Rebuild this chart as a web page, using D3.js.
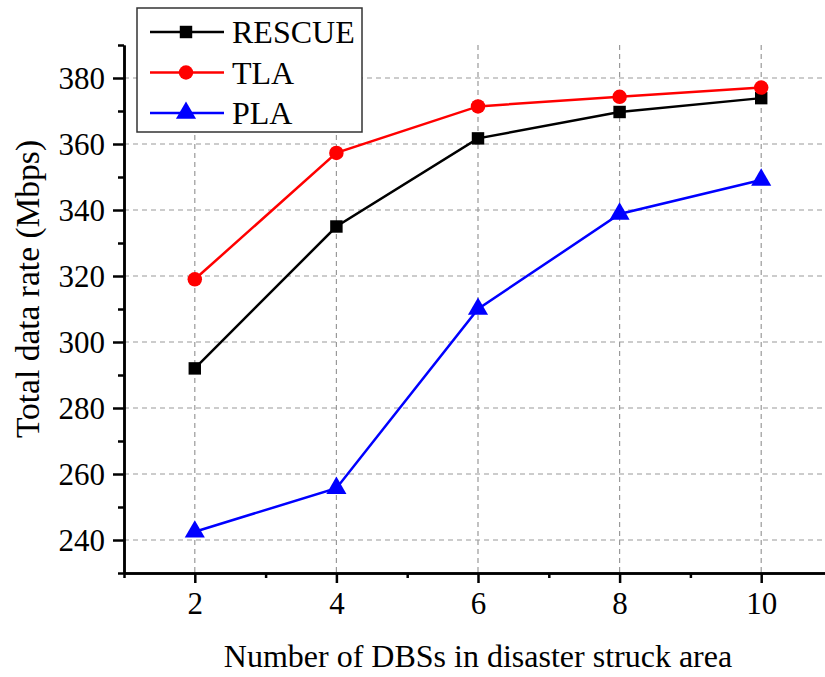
<!DOCTYPE html>
<html><head><meta charset="utf-8">
<script src="https://cdn.jsdelivr.net/npm/d3@7"></script>
<style>body{margin:0;background:#fff}svg{display:block}svg text{font-family:"Liberation Serif","Times New Roman",serif !important}</style>
</head><body>
<svg id="c" width="825" height="677"></svg>
<script>
const xValues = [2, 4, 6, 8, 10];
const rescue = [292, 335, 361.7, 369.7, 373.9];
const tla = [319, 357.3, 371.4, 374.3, 377.1];
const pla = [242.5, 255.7, 310, 338.8, 349.1];
const xTicks = [2, 4, 6, 8, 10];
const yTicks = [240, 260, 280, 300, 320, 340, 360, 380];
const seriesNames = ["RESCUE", "TLA", "PLA"];

const FONT = '"Liberation Serif", "Times New Roman", serif';
const svg = d3.select("#c");
const L = 124, R = 832, T = 45, B = 573;
const x = d3.scaleLinear().domain([1, 11]).range([L, R]);
const y = d3.scaleLinear().domain([230, 390]).range([B, T]);

// grid
const g = svg.append("g");
g.selectAll(".gy").data(yTicks).join("line")
  .attr("x1", L).attr("x2", R).attr("y1", d => y(d)).attr("y2", d => y(d))
  .attr("stroke", "#999").attr("stroke-width", 1.2).attr("stroke-dasharray", "5,4");
g.selectAll(".gx").data(xTicks).join("line")
  .attr("y1", T).attr("y2", B).attr("x1", d => x(d)).attr("x2", d => x(d))
  .attr("stroke", "#999").attr("stroke-width", 1.2).attr("stroke-dasharray", "5,4");

// axes
const xAxis = d3.axisBottom(x).tickValues(xTicks).tickSize(10).tickSizeOuter(0).tickFormat(d3.format("d"));
const xMinor = d3.axisBottom(x).tickValues([1, 3, 5, 7, 9]).tickSize(5).tickSizeOuter(0).tickFormat("");
const yAxis = d3.axisLeft(y).tickValues(yTicks).tickSize(11).tickSizeOuter(0);
const yMinor = d3.axisLeft(y).tickValues(d3.range(230, 391, 10).filter(v => v % 20 !== 0)).tickSize(6).tickSizeOuter(0).tickFormat("");

function style(sel) {
  sel.attr("font-family", FONT);
  sel.select(".domain").attr("stroke", "#000").attr("stroke-width", 2.5);
  sel.selectAll(".tick line").attr("stroke", "#000").attr("stroke-width", 2.5);
  sel.selectAll(".tick text").attr("fill", "#000").attr("font-family", FONT).attr("font-size", 31).style("font-size", "31px");
}
svg.append("g").attr("transform", `translate(0,${B})`).call(xMinor).call(style);
svg.append("g").attr("transform", `translate(0,${B})`).call(xAxis).call(style)
  .selectAll(".tick text").attr("y", 41).attr("dy", null);
svg.append("g").attr("transform", `translate(${L},0)`).call(yMinor).call(style);
svg.append("g").attr("transform", `translate(${L},0)`).call(yAxis).call(style)
  .selectAll(".tick text").attr("x", -19).attr("dy", "0.35em");

// axis titles
svg.append("text").attr("x", 478).attr("y", 667).attr("text-anchor", "middle")
  .attr("font-family", FONT).style("font-size", "32px").text("Number of DBSs in disaster struck area");
svg.append("text").attr("transform", "translate(39,289) rotate(-90)").attr("text-anchor", "middle")
  .attr("font-family", FONT).style("font-size", "33.5px").text("Total data rate (Mbps)");

const series = [
  {name: seriesNames[0], vals: rescue, color: "#000", shape: d3.symbolSquare, size: 155},
  {name: seriesNames[1], vals: tla, color: "#f00", shape: d3.symbolCircle, size: 165},
  {name: seriesNames[2], vals: pla, color: "#00f", shape: d3.symbolTriangle, size: 175}
];
const line = d3.line().x((d, i) => x(xValues[i])).y(d => y(d));
series.forEach(s => {
  svg.append("path").datum(s.vals).attr("d", line).attr("fill", "none")
    .attr("stroke", s.color).attr("stroke-width", 2.5);
  svg.selectAll(null).data(s.vals).join("path")
    .attr("d", d3.symbol().type(s.shape).size(s.size))
    .attr("transform", (d, i) => `translate(${x(xValues[i])},${y(d)})`)
    .attr("fill", s.color);
});

// legend
const lg = svg.append("g");
lg.append("rect").attr("x", 137).attr("y", 8).attr("width", 225).attr("height", 124)
  .attr("fill", "#fff").attr("stroke", "#333").attr("stroke-width", 1.5);
series.forEach((s, i) => {
  const yy = 32 + i * 40.5;
  lg.append("line").attr("x1", 150).attr("x2", 224).attr("y1", yy).attr("y2", yy)
    .attr("stroke", s.color).attr("stroke-width", 2.5);
  lg.append("path").attr("d", d3.symbol().type(s.shape).size(s.size)).attr("transform", `translate(186,${yy})`).attr("fill", s.color);
  lg.append("text").attr("x", 232).attr("y", yy).attr("dy", "0.35em").attr("font-family", FONT).style("font-size", "32px").text(s.name);
});
</script>
</body></html>
